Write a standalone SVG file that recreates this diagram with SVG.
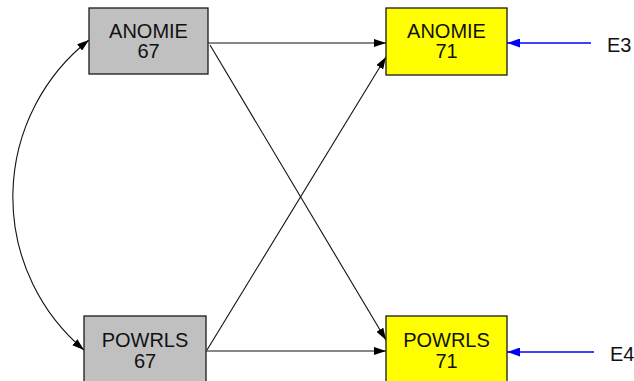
<svg xmlns="http://www.w3.org/2000/svg" width="634" height="381" viewBox="0 0 634 381">
  <style>
    .obs { stroke: #1a1a1a; stroke-width: 1.3; }
    .exo { fill: #c0c0c0; }
    .endo { fill: #ffff00; }
    .lbl { font-family: "Liberation Sans", Arial, sans-serif; font-size: 20px; fill: #111; text-anchor: middle; }
    .err { font-family: "Liberation Sans", Arial, sans-serif; font-size: 20px; fill: #111; }
    .path { fill: none; stroke: #111; stroke-width: 1.1; }
    .resid { fill: none; stroke: #0000ff; stroke-width: 1.3; }
  </style>
  <defs>
    <marker id="ah" viewBox="0 0 12 8" refX="12" refY="4" markerWidth="12" markerHeight="8" markerUnits="userSpaceOnUse" orient="auto-start-reverse">
      <path d="M0,0 L12,4 L0,8 Z" fill="#000"/>
    </marker>
    <marker id="ahb" viewBox="0 0 13 9" refX="13" refY="4.5" markerWidth="13" markerHeight="9" markerUnits="userSpaceOnUse" orient="auto">
      <path d="M0,0 L13,4.5 L0,9 Z" fill="#0000ff"/>
    </marker>
  </defs>

  <g id="connectors">
    <!-- covariance between the two exogenous measures -->
    <path class="path" d="M89,40 A200,200 0 0 0 84,350" marker-start="url(#ah)" marker-end="url(#ah)"/>
    <!-- regression paths -->
    <line class="path" x1="208" y1="43" x2="386" y2="43" marker-end="url(#ah)"/>
    <line class="path" x1="210" y1="45" x2="386" y2="340" marker-end="url(#ah)"/>
    <line class="path" x1="207" y1="350" x2="386" y2="57" marker-end="url(#ah)"/>
    <line class="path" x1="206" y1="351" x2="386" y2="351" marker-end="url(#ah)"/>
    <!-- residual terms -->
    <line class="resid" x1="591" y1="43" x2="507" y2="43" marker-end="url(#ahb)"/>
    <line class="resid" x1="594" y1="352" x2="507" y2="352" marker-end="url(#ahb)"/>
  </g>

  <g id="anomie67">
    <rect class="obs exo" x="89" y="8" width="119" height="66"/>
    <text class="lbl" x="148.5" y="38">ANOMIE</text>
    <text class="lbl" x="148.5" y="58">67</text>
  </g>

  <g id="powrls67">
    <rect class="obs exo" x="84" y="316" width="122" height="66"/>
    <text class="lbl" x="145" y="347">POWRLS</text>
    <text class="lbl" x="145" y="368">67</text>
  </g>

  <g id="anomie71">
    <rect class="obs endo" x="386" y="8" width="121" height="67"/>
    <text class="lbl" x="446.5" y="38">ANOMIE</text>
    <text class="lbl" x="446.5" y="58">71</text>
  </g>

  <g id="powrls71">
    <rect class="obs endo" x="386" y="316" width="121" height="66"/>
    <text class="lbl" x="446.5" y="347">POWRLS</text>
    <text class="lbl" x="446.5" y="368">71</text>
  </g>

  <g id="e3">
    <text class="err" x="607" y="52">E3</text>
  </g>

  <g id="e4">
    <text class="err" x="610" y="361">E4</text>
  </g>
</svg>
